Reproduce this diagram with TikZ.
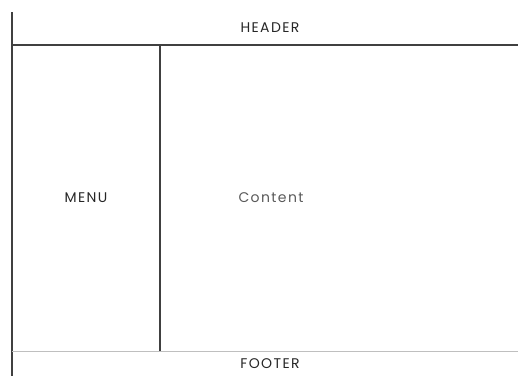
\documentclass[tikz,border=0pt]{standalone}
\usepackage{fontspec}
\setmainfont{Poppins}[LetterSpace=10]
\begin{document}
\begin{tikzpicture}[x=1pt,y=-1pt,
  frame/.style={draw=black!75,line width=1.3pt},
  faint/.style={draw=black!25,line width=0.9pt},
  lbl/.style={font=\fontsize{14}{16}\selectfont,text=black!85,inner sep=0pt}]
\useasboundingbox (0,0) rectangle (518,376);
\coordinate (lt) at (12,12);
\coordinate (lb) at (12,376);
\coordinate (hl) at (12,45);
\coordinate (hr) at (518,45);
\coordinate (mt) at (160,45);
\coordinate (mb) at (160,351);
\coordinate (fl) at (12,351);
\coordinate (fr) at (518,351);
\draw[frame] (lt) -- (lb);
\draw[frame] (hl) -- (hr);
\draw[frame] (mt) -- (mb);
\draw[faint] (fl) -- (fr);
\node[lbl] (header) at (270,28) {HEADER};
\node[lbl] (menu) at (86,198) {MENU};
\node[lbl,text=black!65] (content) at (271,198) {Content};
\node[lbl] (footer) at (270,364) {FOOTER};
\end{tikzpicture}
\end{document}
